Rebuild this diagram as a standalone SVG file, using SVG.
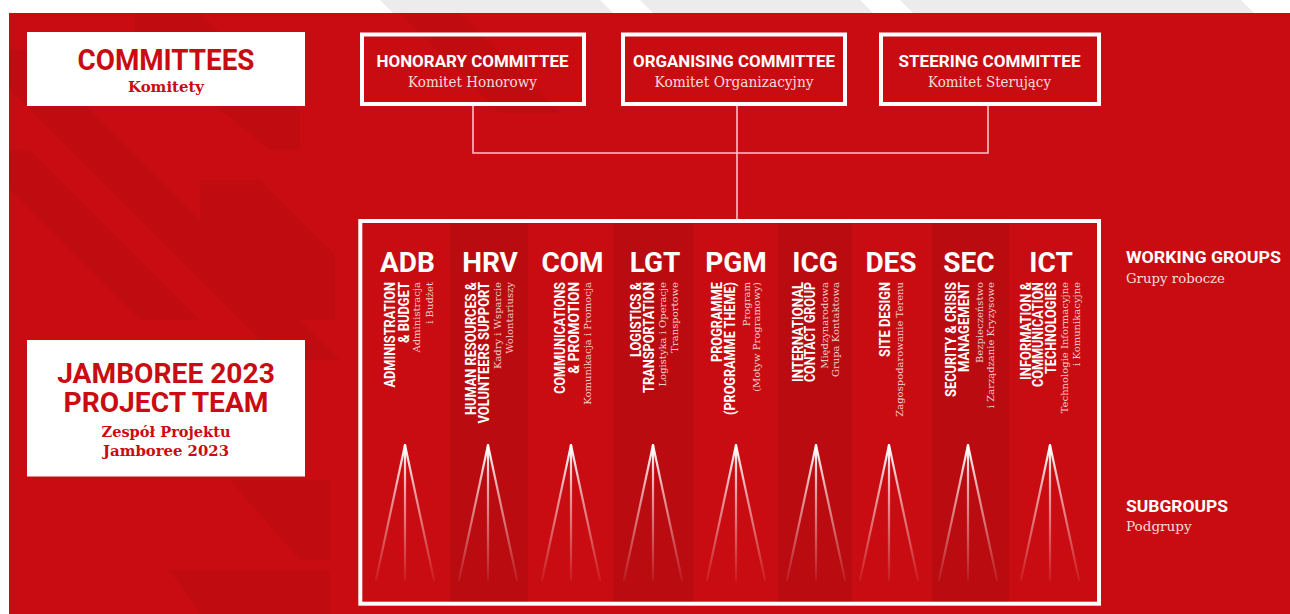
<svg xmlns="http://www.w3.org/2000/svg" width="1290" height="614" viewBox="0 0 1290 614">
<defs>
<style>
.bold{font-family:Roboto,"Liberation Sans",sans-serif;font-weight:700}
.serif{font-family:"DejaVu Serif","Liberation Serif",serif}
.wt{fill:#ffffff}
.rt{fill:#c90c12}
.sub{fill:#f7dada}
.vb{font-family:Roboto,"Liberation Sans",sans-serif;font-weight:700;font-size:14.5px;fill:#ffffff;text-anchor:end}
.vs{font-family:"DejaVu Serif","Liberation Serif",serif;font-size:10px;fill:#f3cfcf;text-anchor:end}
.abbr{font-family:Roboto,"Liberation Sans",sans-serif;font-weight:700;font-size:28px;fill:#ffffff;text-anchor:middle}
.conn{stroke:#f2c4c4;stroke-width:1.6;fill:none}
.frame{fill:none;stroke:#ffffff;stroke-width:4}
.stripe{fill:#c00b10}
.dark{fill:#000000;fill-opacity:0.075}
.ray{stroke:url(#rayg);stroke-width:2.2;stroke-linecap:round}
</style>
<linearGradient id="rayg" gradientUnits="userSpaceOnUse" x1="0" y1="445" x2="0" y2="582">
<stop offset="0" stop-color="#ffffff" stop-opacity="1"/>
<stop offset="0.35" stop-color="#ffffff" stop-opacity="0.6"/>
<stop offset="1" stop-color="#ffffff" stop-opacity="0.05"/>
</linearGradient>
<clipPath id="redclip"><rect x="9" y="13" width="1281" height="601"/></clipPath>
</defs>

<!-- page background -->
<rect x="0" y="0" width="1290" height="614" fill="#ffffff"/>
<g id="topband" fill="#ececec">
<polygon points="380,0 600,0 613,13 393,13"/>
<polygon points="640,0 860,0 873,13 653,13"/>
<polygon points="900,0 1241,0 1254,13 913,13"/>
</g>
<rect x="9" y="13" width="1281" height="601" fill="#c90c12"/>
<g id="bgstripes" clip-path="url(#redclip)">
<polygon class="stripe" points="-30,50 30,50 340,360 280,360"/>
<polygon class="stripe" points="-30,150 30,150 200,320 140,320"/>
<polygon class="stripe" points="200,180 260,180 335,255 335,320 300,320 200,220"/>
<polygon class="stripe" points="135,13 200,13 300,113 300,150 270,150 135,40"/>
<polygon class="stripe" points="400,13 460,13 560,113 500,113"/>
<polygon class="stripe" points="170,570 330,570 330,614 200,614"/>
<polygon class="stripe" points="230,480 330,480 330,560 300,560"/>
</g>

<!-- left title boxes -->
<g id="committees">
<rect x="27" y="32" width="278" height="74" fill="#ffffff"/>
<text class="bold rt" x="166" y="70" font-size="29" text-anchor="middle" textLength="177" lengthAdjust="spacingAndGlyphs">COMMITTEES</text>
<text class="serif rt" x="166" y="92" font-size="15" font-weight="700" text-anchor="middle" textLength="76" lengthAdjust="spacingAndGlyphs">Komitety</text>
</g>
<g id="projectteam">
<rect x="27" y="340" width="278" height="136.5" fill="#ffffff"/>
<text class="bold rt" x="166" y="383.3" font-size="28" text-anchor="middle" textLength="217.7" lengthAdjust="spacingAndGlyphs">JAMBOREE 2023</text>
<text class="bold rt" x="166" y="411.7" font-size="28" text-anchor="middle" textLength="205" lengthAdjust="spacingAndGlyphs">PROJECT TEAM</text>
<text class="serif rt" x="166" y="436.7" font-size="15" font-weight="700" text-anchor="middle" textLength="129" lengthAdjust="spacingAndGlyphs">Zespół Projektu</text>
<text class="serif rt" x="166" y="456" font-size="15" font-weight="700" text-anchor="middle" textLength="126" lengthAdjust="spacingAndGlyphs">Jamboree 2023</text>
</g>

<!-- connectors -->
<g id="connectors">
<polyline class="conn" points="473,106 473,153 988,153 988,106"/>
<line class="conn" x1="737" y1="106" x2="737" y2="219"/>
</g>

<!-- committee boxes -->
<g id="honorary">
<rect class="frame" x="362" y="34.5" width="222" height="69.5"/>
<text class="bold wt" x="472.5" y="66.5" font-size="17" text-anchor="middle" textLength="192" lengthAdjust="spacingAndGlyphs">HONORARY COMMITTEE</text>
<text class="serif sub" x="472.5" y="86.5" font-size="14" text-anchor="middle" textLength="129" lengthAdjust="spacingAndGlyphs">Komitet Honorowy</text>
</g>
<g id="organising">
<rect class="frame" x="623" y="34.5" width="222" height="69.5"/>
<text class="bold wt" x="734" y="66.5" font-size="17" text-anchor="middle" textLength="202" lengthAdjust="spacingAndGlyphs">ORGANISING COMMITTEE</text>
<text class="serif sub" x="734" y="86.5" font-size="14" text-anchor="middle" textLength="159" lengthAdjust="spacingAndGlyphs">Komitet Organizacyjny</text>
</g>
<g id="steering">
<rect class="frame" x="881" y="34.5" width="218" height="69.5"/>
<text class="bold wt" x="989.5" y="66.5" font-size="17" text-anchor="middle" textLength="182" lengthAdjust="spacingAndGlyphs">STEERING COMMITTEE</text>
<text class="serif sub" x="989.5" y="86.5" font-size="14" text-anchor="middle" textLength="123" lengthAdjust="spacingAndGlyphs">Komitet Sterujący</text>
</g>

<!-- working groups frame -->
<g id="working-groups">
<rect class="dark" x="450" y="223" width="78" height="379"/>
<rect class="dark" x="613" y="223" width="80" height="379"/>
<rect class="dark" x="778" y="223" width="74" height="379"/>
<rect class="dark" x="932" y="223" width="77" height="379"/>
<rect class="frame" x="360.3" y="221" width="738.7" height="382.7"/>
</g>

<g id="wg-adb">
<text class="abbr" x="407.5" y="272">ADB</text>
<text class="vb" transform="translate(395.3,282) rotate(-90)" textLength="105.6" lengthAdjust="spacingAndGlyphs">ADMINISTRATION</text>
<text class="vb" transform="translate(409,282) rotate(-90)" textLength="61" lengthAdjust="spacingAndGlyphs">&amp; BUDGET</text>
<text class="vs" transform="translate(419.5,282) rotate(-90)">Administracja</text>
<text class="vs" transform="translate(432.5,282) rotate(-90)">i Budżet</text>
</g>
<g id="wg-hrv">
<text class="abbr" x="490" y="272">HRV</text>
<text class="vb" transform="translate(476,282) rotate(-90)" textLength="133" lengthAdjust="spacingAndGlyphs">HUMAN RESOURCES &amp;</text>
<text class="vb" transform="translate(488.5,282) rotate(-90)" textLength="141.6" lengthAdjust="spacingAndGlyphs">VOLUNTEERS SUPPORT</text>
<text class="vs" transform="translate(501,282) rotate(-90)">Kadry i Wsparcie</text>
<text class="vs" transform="translate(512.5,282) rotate(-90)">Wolontariuszy</text>
</g>
<g id="wg-com">
<text class="abbr" x="572.5" y="272">COM</text>
<text class="vb" transform="translate(565.3,282) rotate(-90)" textLength="111.7" lengthAdjust="spacingAndGlyphs">COMMUNICATIONS</text>
<text class="vb" transform="translate(579,282) rotate(-90)" textLength="91.7" lengthAdjust="spacingAndGlyphs">&amp; PROMOTION</text>
<text class="vs" transform="translate(591,282) rotate(-90)">Komunikacja i Promocja</text>
</g>
<g id="wg-lgt">
<text class="abbr" x="655" y="272">LGT</text>
<text class="vb" transform="translate(640.8,282) rotate(-90)" textLength="75" lengthAdjust="spacingAndGlyphs">LOGISTICS &amp;</text>
<text class="vb" transform="translate(654,282) rotate(-90)" textLength="111" lengthAdjust="spacingAndGlyphs">TRANSPORTATION</text>
<text class="vs" transform="translate(666,282) rotate(-90)">Logistyka i Operacje</text>
<text class="vs" transform="translate(677.5,282) rotate(-90)">Transportowe</text>
</g>
<g id="wg-pgm">
<text class="abbr" x="736" y="272">PGM</text>
<text class="vb" transform="translate(722,282) rotate(-90)" textLength="80" lengthAdjust="spacingAndGlyphs">PROGRAMME</text>
<text class="vb" transform="translate(734.5,282) rotate(-90)" textLength="133" lengthAdjust="spacingAndGlyphs">(PROGRAMME THEME)</text>
<text class="vs" transform="translate(749.5,282) rotate(-90)">Program</text>
<text class="vs" transform="translate(759.5,282) rotate(-90)">(Motyw Programowy)</text>
</g>
<g id="wg-icg">
<text class="abbr" x="815" y="272">ICG</text>
<text class="vb" transform="translate(802.5,282) rotate(-90)" textLength="100" lengthAdjust="spacingAndGlyphs">INTERNATIONAL</text>
<text class="vb" transform="translate(815,282) rotate(-90)" textLength="100" lengthAdjust="spacingAndGlyphs">CONTACT GROUP</text>
<text class="vs" transform="translate(827.5,282) rotate(-90)">Międzynarodowa</text>
<text class="vs" transform="translate(839.3,282) rotate(-90)">Grupa Kontaktowa</text>
</g>
<g id="wg-des">
<text class="abbr" x="891" y="272">DES</text>
<text class="vb" transform="translate(890,282) rotate(-90)" textLength="75" lengthAdjust="spacingAndGlyphs">SITE DESIGN</text>
<text class="vs" transform="translate(902.5,282) rotate(-90)">Zagospodarowanie Terenu</text>
</g>
<g id="wg-sec">
<text class="abbr" x="969" y="272">SEC</text>
<text class="vb" transform="translate(955.8,282) rotate(-90)" textLength="115" lengthAdjust="spacingAndGlyphs">SECURITY &amp; CRISIS</text>
<text class="vb" transform="translate(969,282) rotate(-90)" textLength="90" lengthAdjust="spacingAndGlyphs">MANAGEMENT</text>
<text class="vs" transform="translate(982.5,282) rotate(-90)">Bezpieczeństwo</text>
<text class="vs" transform="translate(994.3,282) rotate(-90)">i Zarządzanie Kryzysowe</text>
</g>
<g id="wg-ict">
<text class="abbr" x="1051" y="272">ICT</text>
<text class="vb" transform="translate(1030.5,282) rotate(-90)" textLength="98" lengthAdjust="spacingAndGlyphs">INFORMATION &amp;</text>
<text class="vb" transform="translate(1043.3,282) rotate(-90)" textLength="105" lengthAdjust="spacingAndGlyphs">COMMUNICATION</text>
<text class="vb" transform="translate(1055.8,282) rotate(-90)" textLength="92" lengthAdjust="spacingAndGlyphs">TECHNOLOGIES</text>
<text class="vs" transform="translate(1068.3,282) rotate(-90)">Technologie Informacyjne</text>
<text class="vs" transform="translate(1080.3,282) rotate(-90)">i Komunikacyjne</text>
</g>

<!-- subgroup fans -->
<g id="subgroups">
<g transform="translate(405,0)"><line class="ray" x1="0" y1="445" x2="-29" y2="580"/><line class="ray" x1="0" y1="445" x2="0" y2="580"/><line class="ray" x1="0" y1="445" x2="29" y2="580"/></g>
<g transform="translate(488,0)"><line class="ray" x1="0" y1="445" x2="-29" y2="580"/><line class="ray" x1="0" y1="445" x2="0" y2="580"/><line class="ray" x1="0" y1="445" x2="29" y2="580"/></g>
<g transform="translate(571,0)"><line class="ray" x1="0" y1="445" x2="-29" y2="580"/><line class="ray" x1="0" y1="445" x2="0" y2="580"/><line class="ray" x1="0" y1="445" x2="29" y2="580"/></g>
<g transform="translate(653,0)"><line class="ray" x1="0" y1="445" x2="-29" y2="580"/><line class="ray" x1="0" y1="445" x2="0" y2="580"/><line class="ray" x1="0" y1="445" x2="29" y2="580"/></g>
<g transform="translate(736,0)"><line class="ray" x1="0" y1="445" x2="-29" y2="580"/><line class="ray" x1="0" y1="445" x2="0" y2="580"/><line class="ray" x1="0" y1="445" x2="29" y2="580"/></g>
<g transform="translate(816,0)"><line class="ray" x1="0" y1="445" x2="-29" y2="580"/><line class="ray" x1="0" y1="445" x2="0" y2="580"/><line class="ray" x1="0" y1="445" x2="29" y2="580"/></g>
<g transform="translate(889,0)"><line class="ray" x1="0" y1="445" x2="-29" y2="580"/><line class="ray" x1="0" y1="445" x2="0" y2="580"/><line class="ray" x1="0" y1="445" x2="29" y2="580"/></g>
<g transform="translate(968,0)"><line class="ray" x1="0" y1="445" x2="-29" y2="580"/><line class="ray" x1="0" y1="445" x2="0" y2="580"/><line class="ray" x1="0" y1="445" x2="29" y2="580"/></g>
<g transform="translate(1050,0)"><line class="ray" x1="0" y1="445" x2="-29" y2="580"/><line class="ray" x1="0" y1="445" x2="0" y2="580"/><line class="ray" x1="0" y1="445" x2="29" y2="580"/></g>
</g>

<!-- right side labels -->
<g id="label-working">
<text class="bold wt" x="1126" y="263.3" font-size="16" textLength="155" lengthAdjust="spacingAndGlyphs">WORKING GROUPS</text>
<text class="serif sub" x="1126" y="283.3" font-size="13.5" textLength="99" lengthAdjust="spacingAndGlyphs">Grupy robocze</text>
</g>
<g id="label-subgroups">
<text class="bold wt" x="1126" y="511.7" font-size="16" textLength="102" lengthAdjust="spacingAndGlyphs">SUBGROUPS</text>
<text class="serif sub" x="1126" y="530.5" font-size="13.5" textLength="65.7" lengthAdjust="spacingAndGlyphs">Podgrupy</text>
</g>
</svg>
